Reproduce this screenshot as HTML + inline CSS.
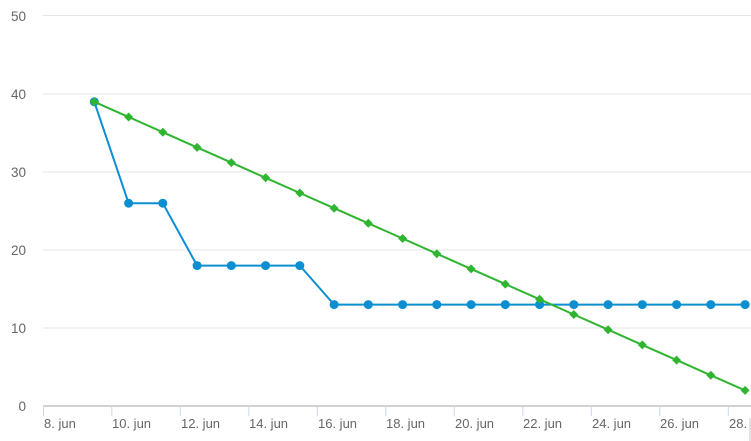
<!DOCTYPE html>
<html><head><meta charset="utf-8"><style>
html,body{margin:0;padding:0;background:#fff;}
svg{display:block;}
text{font-family:"Liberation Sans",sans-serif;fill:#666;}
</style></head><body>
<svg width="751" height="441" viewBox="0 0 751 441" xmlns="http://www.w3.org/2000/svg">
<g stroke="#e6e6e6" stroke-width="1">
<line x1="43" y1="15.5" x2="751" y2="15.5"/>
<line x1="43" y1="94" x2="751" y2="94"/>
<line x1="43" y1="172" x2="751" y2="172"/>
<line x1="43" y1="250" x2="751" y2="250"/>
<line x1="43" y1="328" x2="751" y2="328"/>
</g>
<line x1="43" y1="406" x2="751" y2="406" stroke="#c4c4c4" stroke-width="1.5"/>
<g stroke="#ccd6eb" stroke-width="1">
<line x1="43.5" y1="406" x2="43.5" y2="416"/>
<line x1="111.8" y1="406" x2="111.8" y2="416"/>
<line x1="180.3" y1="406" x2="180.3" y2="416"/>
<line x1="248.8" y1="406" x2="248.8" y2="416"/>
<line x1="317.3" y1="406" x2="317.3" y2="416"/>
<line x1="385.8" y1="406" x2="385.8" y2="416"/>
<line x1="454.3" y1="406" x2="454.3" y2="416"/>
<line x1="522.8" y1="406" x2="522.8" y2="416"/>
<line x1="591.3" y1="406" x2="591.3" y2="416"/>
<line x1="659.8" y1="406" x2="659.8" y2="416"/>
<line x1="728.3" y1="406" x2="728.3" y2="416"/>
</g>
<g font-size="13.5" text-anchor="end">
<text x="26" y="21">50</text>
<text x="26" y="99">40</text>
<text x="26" y="177">30</text>
<text x="26" y="255">20</text>
<text x="26" y="333">10</text>
<text x="26" y="411">0</text>
</g>
<g font-size="13">
<text x="44" y="428">8. jun</text>
<text x="112" y="428">10. jun</text>
<text x="181" y="428">12. jun</text>
<text x="249" y="428">14. jun</text>
<text x="318" y="428">16. jun</text>
<text x="386" y="428">18. jun</text>
<text x="455" y="428">20. jun</text>
<text x="523" y="428">22. jun</text>
<text x="592" y="428">24. jun</text>
<text x="660" y="428">26. jun</text>
<text x="729" y="428">28. jun</text>
</g>
<rect x="746" y="416" width="5" height="25" fill="#fff"/>
<rect x="749" y="418" width="2" height="23" fill="#e2e2e2"/>
<polyline fill="none" stroke="#0b8fd1" stroke-width="2" stroke-linejoin="round" points="94.3,101.8 128.6,203.2 162.8,203.2 197.1,265.6 231.3,265.6 265.6,265.6 299.8,265.6 334.1,304.6 368.3,304.6 402.6,304.6 436.8,304.6 471.1,304.6 505.3,304.6 539.6,304.6 573.8,304.6 608.1,304.6 642.3,304.6 676.6,304.6 710.8,304.6 745.1,304.6"/>
<g fill="#0b8fd1">
<circle cx="94.3" cy="101.8" r="4.5"/>
<circle cx="128.6" cy="203.2" r="4.5"/>
<circle cx="162.8" cy="203.2" r="4.5"/>
<circle cx="197.1" cy="265.6" r="4.5"/>
<circle cx="231.3" cy="265.6" r="4.5"/>
<circle cx="265.6" cy="265.6" r="4.5"/>
<circle cx="299.8" cy="265.6" r="4.5"/>
<circle cx="334.1" cy="304.6" r="4.5"/>
<circle cx="368.3" cy="304.6" r="4.5"/>
<circle cx="402.6" cy="304.6" r="4.5"/>
<circle cx="436.8" cy="304.6" r="4.5"/>
<circle cx="471.1" cy="304.6" r="4.5"/>
<circle cx="505.3" cy="304.6" r="4.5"/>
<circle cx="539.6" cy="304.6" r="4.5"/>
<circle cx="573.8" cy="304.6" r="4.5"/>
<circle cx="608.1" cy="304.6" r="4.5"/>
<circle cx="642.3" cy="304.6" r="4.5"/>
<circle cx="676.6" cy="304.6" r="4.5"/>
<circle cx="710.8" cy="304.6" r="4.5"/>
<circle cx="745.1" cy="304.6" r="4.5"/>
</g>
<polyline fill="none" stroke="#2fb52f" stroke-width="2" stroke-linejoin="round" points="94.3,101.8 128.6,117.0 162.8,132.2 197.1,147.4 231.3,162.6 265.6,177.8 299.8,193.0 334.1,208.2 368.3,223.3 402.6,238.5 436.8,253.7 471.1,268.9 505.3,284.1 539.6,299.3 573.8,314.5 608.1,329.7 642.3,344.9 676.6,360.1 710.8,375.3 745.1,390.4"/>
<g fill="#2fb52f">
<path d="M94.3,97.3 L98.8,101.8 L94.3,106.3 L89.8,101.8Z"/>
<path d="M128.6,112.5 L133.1,117.0 L128.6,121.5 L124.1,117.0Z"/>
<path d="M162.8,127.7 L167.3,132.2 L162.8,136.7 L158.3,132.2Z"/>
<path d="M197.1,142.9 L201.6,147.4 L197.1,151.9 L192.6,147.4Z"/>
<path d="M231.3,158.1 L235.8,162.6 L231.3,167.1 L226.8,162.6Z"/>
<path d="M265.6,173.3 L270.1,177.8 L265.6,182.3 L261.1,177.8Z"/>
<path d="M299.8,188.5 L304.3,193.0 L299.8,197.5 L295.3,193.0Z"/>
<path d="M334.1,203.7 L338.6,208.2 L334.1,212.7 L329.6,208.2Z"/>
<path d="M368.3,218.8 L372.8,223.3 L368.3,227.8 L363.8,223.3Z"/>
<path d="M402.6,234.0 L407.1,238.5 L402.6,243.0 L398.1,238.5Z"/>
<path d="M436.8,249.2 L441.3,253.7 L436.8,258.2 L432.3,253.7Z"/>
<path d="M471.1,264.4 L475.6,268.9 L471.1,273.4 L466.6,268.9Z"/>
<path d="M505.3,279.6 L509.8,284.1 L505.3,288.6 L500.8,284.1Z"/>
<path d="M539.6,294.8 L544.1,299.3 L539.6,303.8 L535.1,299.3Z"/>
<path d="M573.8,310.0 L578.3,314.5 L573.8,319.0 L569.3,314.5Z"/>
<path d="M608.1,325.2 L612.6,329.7 L608.1,334.2 L603.6,329.7Z"/>
<path d="M642.3,340.4 L646.8,344.9 L642.3,349.4 L637.8,344.9Z"/>
<path d="M676.6,355.6 L681.1,360.1 L676.6,364.6 L672.1,360.1Z"/>
<path d="M710.8,370.8 L715.3,375.3 L710.8,379.8 L706.3,375.3Z"/>
<path d="M745.1,385.9 L749.6,390.4 L745.1,394.9 L740.6,390.4Z"/>
</g>
</svg>
</body></html>
